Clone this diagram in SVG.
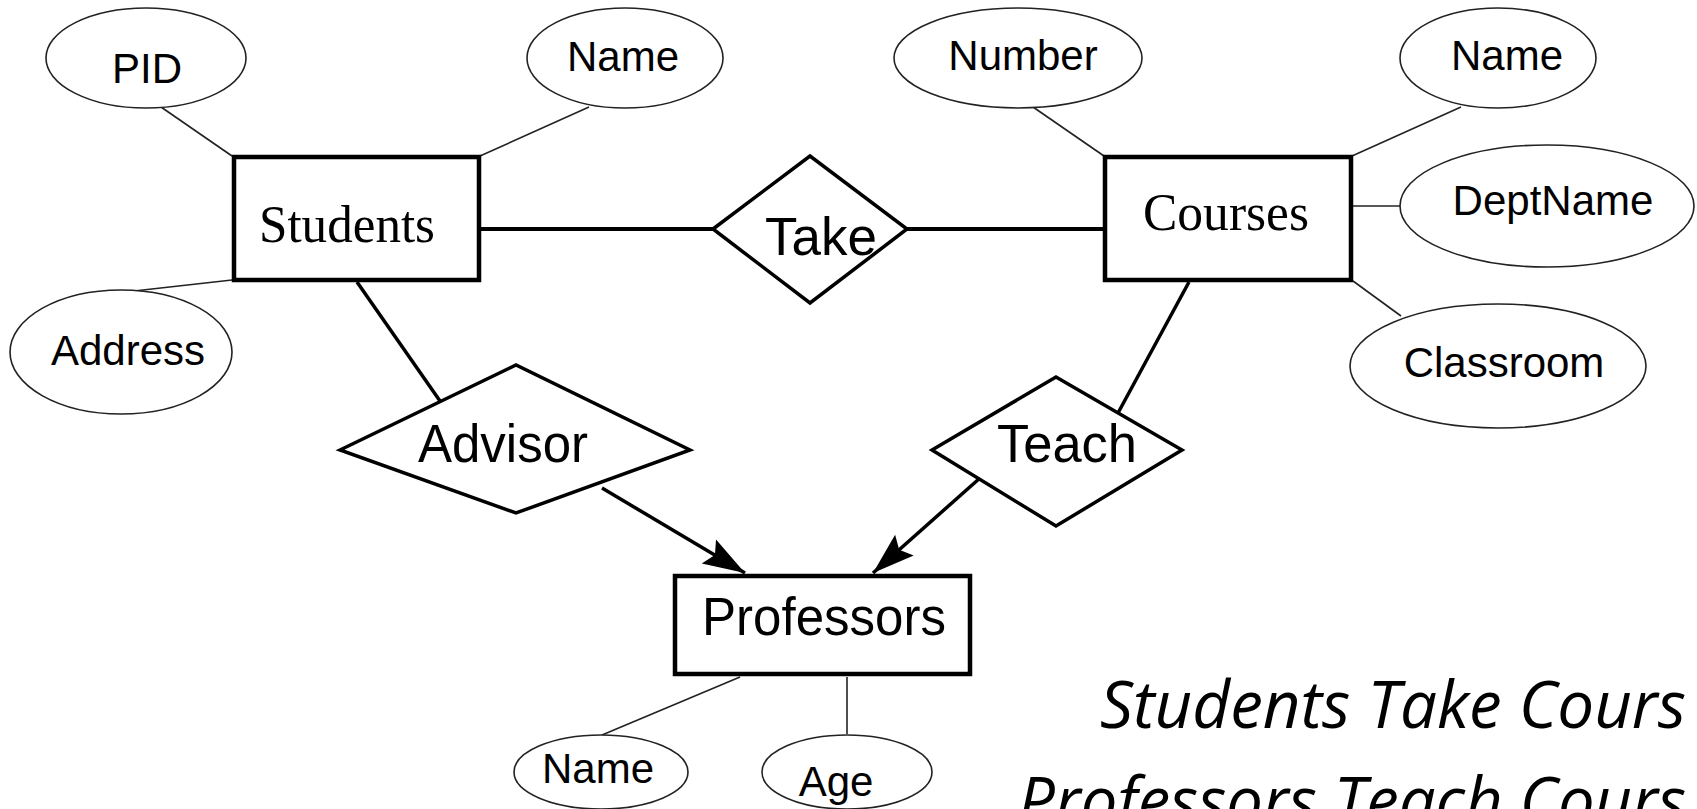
<svg xmlns="http://www.w3.org/2000/svg" width="1697" height="809" viewBox="0 0 1697 809">
<style>
.ent{fill:#fff;stroke:#000;stroke-width:4.5}
.rel{fill:#fff;stroke:#000;stroke-width:3.5;stroke-linejoin:miter}
.att{fill:#fff;stroke:#222;stroke-width:1.6}
.thin{stroke:#222;stroke-width:1.6;fill:none}
.thick{stroke:#000;stroke-width:4;fill:none}
.arr{stroke:#000;stroke-width:3.5;fill:none}
.serif{font-family:"Liberation Serif","Times New Roman",serif;font-size:53px;fill:#000;text-anchor:middle}
.sans{font-family:"Liberation Sans",Arial,sans-serif;font-size:53px;fill:#000;text-anchor:middle}
.attr{font-family:"Liberation Sans",Arial,sans-serif;font-size:42px;fill:#000;text-anchor:middle}
.note{font-family:"Open Sans","Noto Sans",sans-serif;font-style:italic;font-size:66px;fill:#000}
</style>
<defs>
<marker id="ah" markerUnits="userSpaceOnUse" markerWidth="50" markerHeight="34" refX="0" refY="0" viewBox="-44 -17 46 34" orient="auto">
<path d="M0,0 L-42,-14 L-35,0 L-42,14 Z" fill="#000"/>
</marker>
</defs>
<rect width="1697" height="809" fill="#fff"/>
<g id="connectors">
<line class="thin" x1="161" y1="107" x2="232" y2="156"/>
<line class="thin" x1="589" y1="107" x2="480" y2="156"/>
<line class="thin" x1="134" y1="291" x2="232" y2="280"/>
<line class="thin" x1="1033" y1="107" x2="1104" y2="156"/>
<line class="thin" x1="1461" y1="107" x2="1352" y2="156"/>
<line class="thin" x1="1353" y1="206" x2="1400" y2="206"/>
<line class="thin" x1="1353" y1="281" x2="1401" y2="316"/>
<line class="thin" x1="740" y1="677" x2="602" y2="735"/>
<line class="thin" x1="847" y1="677" x2="847" y2="734"/>
<line class="thick" x1="480" y1="229" x2="713" y2="229"/>
<line class="thick" x1="907" y1="229" x2="1103" y2="229"/>
<line class="arr" x1="357" y1="282" x2="440" y2="401"/>
<line class="arr" x1="1189" y1="282" x2="1118" y2="413"/>
<line class="arr" x1="602" y1="488" x2="745" y2="573" marker-end="url(#ah)"/>
<line class="arr" x1="980" y1="478" x2="873" y2="573" marker-end="url(#ah)"/>
</g>
<g id="students">
<rect class="ent" x="234" y="157" width="245" height="123"/>
<text class="serif" x="347" y="242" textLength="176" lengthAdjust="spacingAndGlyphs">Students</text>
</g>
<g id="courses">
<rect class="ent" x="1105" y="157" width="246" height="123"/>
<text class="serif" x="1226" y="230" textLength="166" lengthAdjust="spacingAndGlyphs">Courses</text>
</g>
<g id="professors">
<rect class="ent" x="675" y="576" width="295" height="98"/>
<text class="sans" x="824" y="635" textLength="244" lengthAdjust="spacingAndGlyphs">Professors</text>
</g>
<g id="take">
<polygon class="rel" points="713,229 810,156 907,229 810,303"/>
<text class="sans" x="821" y="255" textLength="112" lengthAdjust="spacingAndGlyphs">Take</text>
</g>
<g id="advisor">
<polygon class="rel" points="340,450 516,365 690,450 516,513"/>
<text class="sans" x="503" y="462" textLength="170" lengthAdjust="spacingAndGlyphs">Advisor</text>
</g>
<g id="teach">
<polygon class="rel" points="932,450 1056,377 1182,450 1056,526"/>
<text class="sans" x="1067" y="462" textLength="140" lengthAdjust="spacingAndGlyphs">Teach</text>
</g>
<g id="attr-pid">
<ellipse class="att" cx="146" cy="58" rx="100" ry="50"/>
<text class="attr" x="147" y="83">PID</text>
</g>
<g id="attr-sname">
<ellipse class="att" cx="625" cy="58" rx="98" ry="50"/>
<text class="attr" x="623" y="71">Name</text>
</g>
<g id="attr-address">
<ellipse class="att" cx="121" cy="352" rx="111" ry="62"/>
<text class="attr" x="128" y="365">Address</text>
</g>
<g id="attr-number">
<ellipse class="att" cx="1018" cy="58" rx="124" ry="50"/>
<text class="attr" x="1023" y="70">Number</text>
</g>
<g id="attr-cname">
<ellipse class="att" cx="1498" cy="58" rx="98" ry="50"/>
<text class="attr" x="1507" y="70">Name</text>
</g>
<g id="attr-deptname">
<ellipse class="att" cx="1547" cy="206" rx="147" ry="61"/>
<text class="attr" x="1553" y="215">DeptName</text>
</g>
<g id="attr-classroom">
<ellipse class="att" cx="1498" cy="366" rx="148" ry="62"/>
<text class="attr" x="1504" y="377">Classroom</text>
</g>
<g id="attr-pname">
<ellipse class="att" cx="601" cy="772" rx="87" ry="37"/>
<text class="attr" x="598" y="783">Name</text>
</g>
<g id="attr-age">
<ellipse class="att" cx="847" cy="772" rx="85" ry="37"/>
<text class="attr" x="836" y="796">Age</text>
</g>
<g id="caption">
<text class="note" x="1100" y="728" textLength="586" lengthAdjust="spacingAndGlyphs">Students Take Cours</text>
<text class="note" x="1018" y="824" textLength="668" lengthAdjust="spacingAndGlyphs">Professors Teach Cours</text>
</g>
</svg>
